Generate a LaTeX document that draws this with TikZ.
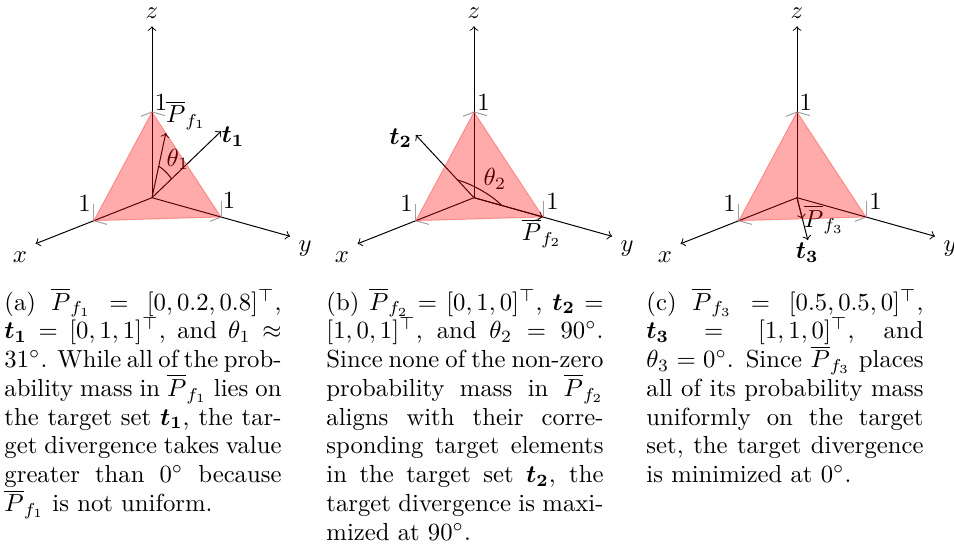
\documentclass[tikz,border=0pt]{standalone}
\usepackage{amsmath,amssymb}
\tikzset{
  axisline/.style={->, black, line width=0.4pt},
  vecarrow/.style={->, black, line width=0.4pt},
  tickmark/.style={gray!75, line width=0.4pt},
  simplex/.style={fill=red, fill opacity=0.33, draw=red, draw opacity=0.3, line width=0.4pt},
  lbl/.style={inner sep=0pt},
  anglearc/.style={black, line width=0.4pt},
  threed/.style={x={(-23.571pt,-9.315pt)}, y={(27.945pt,-7.8165pt)}, z={(0pt,34.71pt)}},
  capnode/.style={anchor=base west, inner sep=0pt},
}
\newcommand{\capbox}[1]{\parbox[t]{112.2pt}{\fontsize{10}{11.65}\selectfont\tolerance=10000\hbadness=10000 #1}}
\begin{document}
\begin{tikzpicture}[x=0.405pt, y=-0.405pt]
\useasboundingbox (0,0) rectangle (954,550);

% ---------------- panel (a)
\begin{scope}[shift={(152,197.7)}, threed]
  \coordinate (aO) at (0,0,0);
  \coordinate (aX) at (2,0,0);
  \coordinate (aY) at (0,2,0);
  \coordinate (aZ) at (0,0,2);
  \coordinate (aX1) at (1,0,0);
  \coordinate (aY1) at (0,1,0);
  \coordinate (aZ1) at (0,0,1);
  \coordinate (aP) at (0,0.2,0.8);
  \coordinate (aT) at (0,1,1);
  \draw[axisline] (aO) -- (aX);
  \draw[axisline] (aO) -- (aY);
  \draw[axisline] (aO) -- (aZ);
  \draw[tickmark] (aX1) -- ++(0,0.19,0);
  \draw[tickmark] (aX1) -- ++(0,0,0.19);
  \draw[tickmark] (aY1) -- ++(0.19,0,0);
  \draw[tickmark] (aY1) -- ++(0,0,0.19);
  \draw[tickmark] (aZ1) -- ++(0.19,0,0);
  \draw[tickmark] (aZ1) -- ++(0,0.19,0);
  \node[lbl] (axl) at ([xshift=-6.32pt, yshift=-5.27pt]aX) {$x$};
  \node[lbl] (ayl) at ([xshift=6.08pt, yshift=-4.86pt]aY) {$y$};
  \node[lbl] (azl) at ([yshift=5.27pt]aZ) {$z$};
  \node[lbl] (ax1l) at ([xshift=-3.73pt, yshift=6.76pt]aX1) {$1$};
  \node[lbl] (ay1l) at ([xshift=3.3pt, yshift=6.5pt]aY1) {$1$};
  \node[lbl] (az1l) at ([xshift=3.65pt, yshift=3.77pt]aZ1) {$1$};
  \draw[vecarrow] (aO) -- (aP);
  \draw[vecarrow] (aO) -- (aT);
  \draw[anglearc] plot[domain=14.036:45, samples=20] (0,{0.4*sin(\x)},{0.4*cos(\x)});
  \node[lbl] (aPl) at ([xshift=8.2pt, yshift=7.3pt]aP) {$\overline{P}_{f_1}$};
  \node[lbl] (aTl) at ([xshift=4.86pt, yshift=-2.2pt]aT) {$\boldsymbol{t_1}$};
  \node[lbl] (athl) at ([xshift=10.5pt, yshift=15.55pt]aO) {$\theta_1$};
  \filldraw[simplex] (aX1) -- (aY1) -- (aZ1) -- cycle;
\end{scope}

% ---------------- panel (b)
\begin{scope}[shift={(474,197.7)}, threed]
  \coordinate (bO) at (0,0,0);
  \coordinate (bX) at (2,0,0);
  \coordinate (bY) at (0,2,0);
  \coordinate (bZ) at (0,0,2);
  \coordinate (bX1) at (1,0,0);
  \coordinate (bY1) at (0,1,0);
  \coordinate (bZ1) at (0,0,1);
  \coordinate (bP) at (0,1,0);
  \coordinate (bT) at (1,0,1);
  \draw[axisline] (bO) -- (bX);
  \draw[axisline] (bO) -- (bY);
  \draw[axisline] (bO) -- (bZ);
  \draw[tickmark] (bX1) -- ++(0,0.19,0);
  \draw[tickmark] (bX1) -- ++(0,0,0.19);
  \draw[tickmark] (bY1) -- ++(0.19,0,0);
  \draw[tickmark] (bY1) -- ++(0,0,0.19);
  \draw[tickmark] (bZ1) -- ++(0.19,0,0);
  \draw[tickmark] (bZ1) -- ++(0,0.19,0);
  \node[lbl] (bxl) at ([xshift=-6.32pt, yshift=-5.27pt]bX) {$x$};
  \node[lbl] (byl) at ([xshift=6.08pt, yshift=-4.86pt]bY) {$y$};
  \node[lbl] (bzl) at ([yshift=5.27pt]bZ) {$z$};
  \node[lbl] (bx1l) at ([xshift=-3.73pt, yshift=6.76pt]bX1) {$1$};
  \node[lbl] (by1l) at ([xshift=3.9pt, yshift=6.2pt]bY1) {$1$};
  \node[lbl] (bz1l) at ([xshift=3.9pt, yshift=3.77pt]bZ1) {$1$};
  \draw[vecarrow] (bO) -- (bP);
  \draw[vecarrow] (bO) -- (bT);
  \draw[anglearc] plot[domain=0:90, samples=25] ({0.4*0.70711*sin(\x)},{0.4*cos(\x)},{0.4*0.70711*sin(\x)});
  \node[lbl] (bPl) at ([xshift=-0.53pt, yshift=-6.6pt]bP) {$\overline{P}_{f_2}$};
  \node[lbl] (bTl) at ([xshift=-6.08pt, yshift=-1.22pt]bT) {$\boldsymbol{t_2}$};
  \node[lbl] (bthl) at ([xshift=8.5pt, yshift=7.57pt]bO) {$\theta_2$};
  \filldraw[simplex] (bX1) -- (bY1) -- (bZ1) -- cycle;
\end{scope}

% ---------------- panel (c)
\begin{scope}[shift={(797,197.7)}, threed]
  \coordinate (cO) at (0,0,0);
  \coordinate (cX) at (2,0,0);
  \coordinate (cY) at (0,2,0);
  \coordinate (cZ) at (0,0,2);
  \coordinate (cX1) at (1,0,0);
  \coordinate (cY1) at (0,1,0);
  \coordinate (cZ1) at (0,0,1);
  \coordinate (cP) at (0.5,0.5,0);
  \coordinate (cT) at (1,1,0);
  \draw[axisline] (cO) -- (cX);
  \draw[axisline] (cO) -- (cY);
  \draw[axisline] (cO) -- (cZ);
  \draw[tickmark] (cX1) -- ++(0,0.19,0);
  \draw[tickmark] (cX1) -- ++(0,0,0.19);
  \draw[tickmark] (cY1) -- ++(0.19,0,0);
  \draw[tickmark] (cY1) -- ++(0,0,0.19);
  \draw[tickmark] (cZ1) -- ++(0.19,0,0);
  \draw[tickmark] (cZ1) -- ++(0,0.19,0);
  \node[lbl] (cxl) at ([xshift=-6.32pt, yshift=-5.27pt]cX) {$x$};
  \node[lbl] (cyl) at ([xshift=6.08pt, yshift=-4.86pt]cY) {$y$};
  \node[lbl] (czl) at ([yshift=5.27pt]cZ) {$z$};
  \node[lbl] (cx1l) at ([xshift=-3.73pt, yshift=6.76pt]cX1) {$1$};
  \node[lbl] (cy1l) at ([xshift=3.9pt, yshift=6.2pt]cY1) {$1$};
  \node[lbl] (cz1l) at ([xshift=3.6pt, yshift=3.77pt]cZ1) {$1$};
  \draw[vecarrow] (cO) -- (cP);
  \draw[vecarrow] (cO) -- (cT);
  \node[lbl] (cPl) at ([xshift=8.75pt, yshift=-0.36pt]cP) {$\overline{P}_{f_3}$};
  \node[lbl] (cTl) at ([xshift=-0.2pt, yshift=-5.06pt]cT) {$\boldsymbol{t_3}$};
  \filldraw[simplex] (cX1) -- (cY1) -- (cZ1) -- cycle;
\end{scope}

% ---------------- captions
\node[capnode] (capa) at (4,310) {\capbox{(a) $\overline{P}_{f_1} = [0, 0.2, 0.8]^\top$,\linebreak
$\boldsymbol{t_1} = [0,1,1]^\top$, and $\theta_1 \approx$\linebreak
$31^\circ$. While all of the prob-\linebreak
ability mass in $\overline{P}_{f_1}$ lies on\linebreak
the target set $\boldsymbol{t_1}$, the tar-\linebreak
get divergence takes value\linebreak
greater than $0^\circ$ because\linebreak
$\overline{P}_{f_1}$ is not uniform.}};

\node[capnode] (capb) at (326,310) {\capbox{(b) $\overline{P}_{f_2} = [0,1,0]^\top$, $\boldsymbol{t_2} =$\linebreak
$[1,0,1]^\top$, and $\theta_2 = 90^\circ$.\linebreak
Since none of the non-zero\linebreak
probability mass in $\overline{P}_{f_2}$\linebreak
aligns with their corre-\linebreak
sponding target elements\linebreak
in the target set $\boldsymbol{t_2}$, the\linebreak
target divergence is maxi-\linebreak
mized at $90^\circ$.}};

\node[capnode] (capc) at (646,310) {\capbox{(c) $\overline{P}_{f_3} = [0.5, 0.5, 0]^\top$,\linebreak
$\boldsymbol{t_3} = [1,1,0]^\top$, and\linebreak
$\theta_3 = 0^\circ$. Since $\overline{P}_{f_3}$ places\linebreak
all of its probability mass\linebreak
uniformly on the target\linebreak
set, the target divergence\linebreak
is minimized at $0^\circ$.}};
\end{tikzpicture}
\end{document}
